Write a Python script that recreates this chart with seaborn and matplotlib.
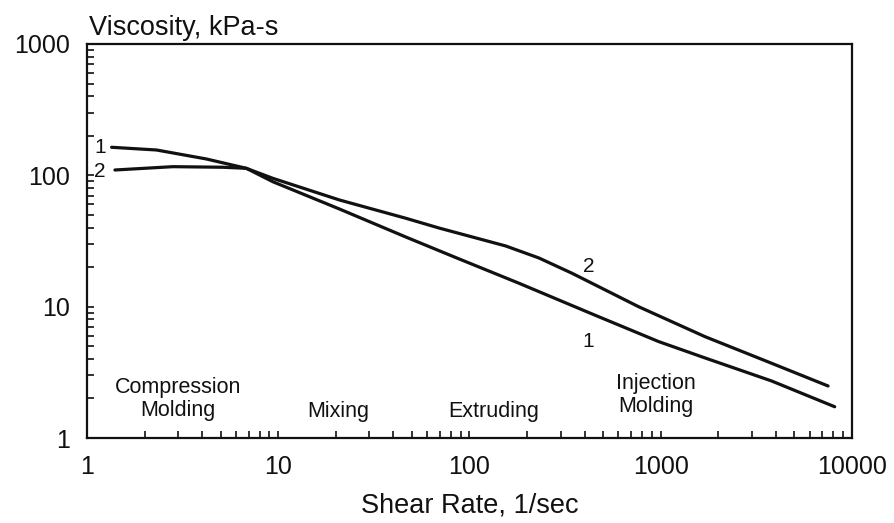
import matplotlib
matplotlib.use("Agg")
import matplotlib.pyplot as plt
import pandas as pd
import seaborn as sns
from matplotlib.ticker import LogLocator, FixedLocator, NullFormatter

# shear rate (1/sec) and viscosity (kPa-s)
shear_1 = [1.345, 2.31, 4.21, 6.81, 9.37, 20.9, 46.5, 88.2, 181, 451, 973, 1705, 3795, 8122]
visc_1 = [163.5, 155.9, 133.2, 113.1, 89.4, 55.4, 33.9, 23.1, 15.1, 8.64, 5.43, 4.07, 2.72, 1.73]

shear_2 = [1.40, 2.82, 5.14, 6.81, 9.37, 20.9, 46.5, 69.3, 154.5, 230.4, 343.7, 765.5, 1705, 3795, 7496]
visc_2 = [109.8, 116.4, 115.2, 113.1, 94.9, 64.9, 47.1, 39.7, 29.0, 23.5, 17.96, 10.0, 5.91, 3.71, 2.49]

regions = ["Compression\nMolding", "Mixing", "Extruding", "Injection\nMolding"]
region_x = [2.98, 20.6, 134, 944]
region_y = [1.98, 1.58, 1.58, 2.12]

curve_labels = ["1", "2", "2", "1"]
curve_label_x = [1.17, 1.17, 420, 420]
curve_label_y = [163, 106.6, 20.2, 5.41]

x_ticks = [1, 10, 100, 1000, 10000]
y_ticks = [1, 10, 100, 1000]

INK = "#111111"


def main() -> None:
    sns.set_theme(style="white")
    plt.rcParams["font.family"] = ["Liberation Sans", "DejaVu Sans"]

    df = pd.concat(
        [
            pd.DataFrame({"shear": shear_1, "visc": visc_1, "curve": "1"}),
            pd.DataFrame({"shear": shear_2, "visc": visc_2, "curve": "2"}),
        ],
        ignore_index=True,
    )

    fig = plt.figure(figsize=(8.94, 5.23), dpi=100)
    ax = fig.add_axes([0.0973, 0.1625, 0.8557, 0.7534])
    sns.lineplot(
        data=df, x="shear", y="visc", units="curve", estimator=None,
        color=INK, linewidth=2.3, ax=ax, legend=False,
        solid_capstyle="round", solid_joinstyle="round",
    )
    ax.set_xscale("log")
    ax.set_yscale("log")
    ax.set_xlim(1, 10000)
    ax.set_ylim(1, 1000)

    ax.xaxis.set_major_locator(FixedLocator(x_ticks))
    ax.yaxis.set_major_locator(FixedLocator(y_ticks))
    ax.set_xticklabels([str(t) for t in x_ticks])
    ax.set_yticklabels([str(t) for t in y_ticks])
    ax.xaxis.set_minor_locator(LogLocator(base=10, subs=range(2, 10)))
    ax.yaxis.set_minor_locator(LogLocator(base=10, subs=range(2, 10)))
    ax.xaxis.set_minor_formatter(NullFormatter())
    ax.yaxis.set_minor_formatter(NullFormatter())
    ax.tick_params(which="both", direction="in", length=5, width=1.2, color=INK,
                   top=False, right=False, bottom=True, left=True)
    ax.tick_params(axis="x", which="major", pad=12, labelsize=18, labelcolor=INK)
    ax.tick_params(axis="y", which="major", pad=12, labelsize=18, labelcolor=INK)

    for side in ["left", "right", "top", "bottom"]:
        ax.spines[side].set_visible(True)
        ax.spines[side].set_color(INK)
        ax.spines[side].set_linewidth(1.6)

    ax.set_xlabel("Shear Rate, 1/sec", fontsize=19.5, color=INK, labelpad=10)
    ax.set_ylabel("")
    ax.text(0.003, 1.008, "Viscosity, kPa-s", transform=ax.transAxes,
            ha="left", va="bottom", fontsize=19.5, color=INK)

    for text, x, y in zip(regions, region_x, region_y):
        ax.text(x, y, text, ha="center", va="center", fontsize=15.5,
                color=INK, linespacing=1.1)

    for text, x, y in zip(curve_labels, curve_label_x, curve_label_y):
        ax.text(x, y, text, ha="center", va="center", fontsize=15, color=INK)

    fig.savefig("out.png", dpi=100, facecolor="white")
    plt.close(fig)


if __name__ == "__main__":
    main()
